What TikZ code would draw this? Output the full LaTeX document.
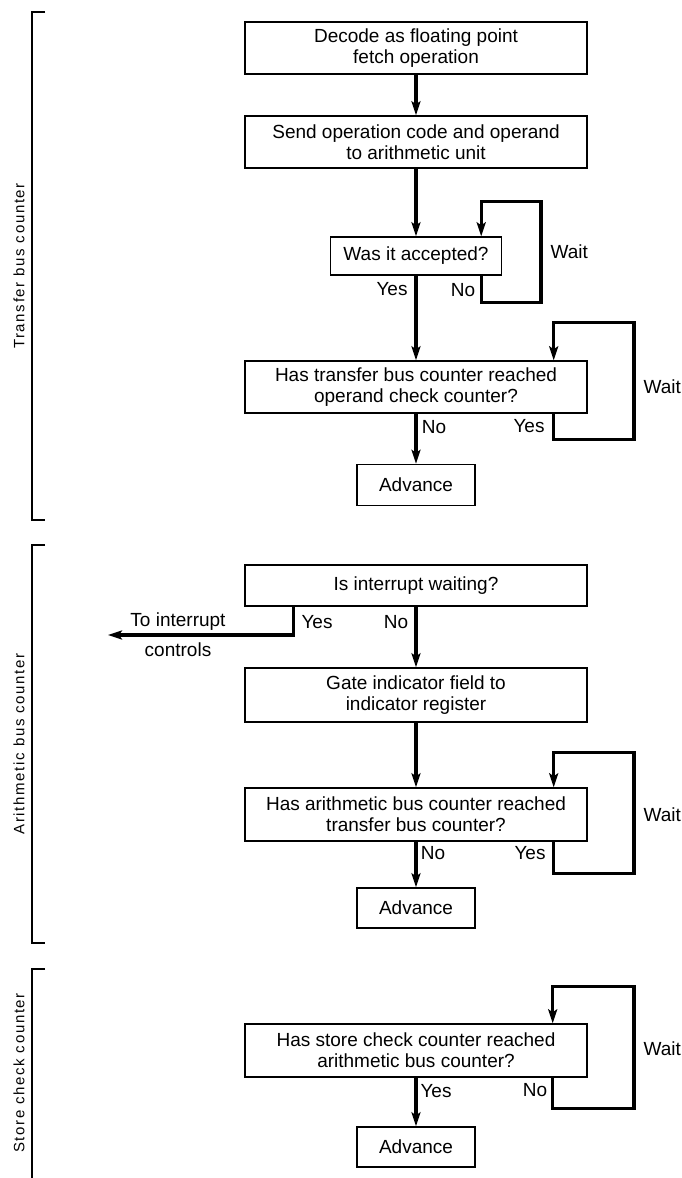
\documentclass[tikz,border=0pt]{standalone}
\usepackage{fontspec}
\setmainfont{Liberation Sans}
\newfontfamily\sidefont[LetterSpace=11]{Liberation Sans}
\usetikzlibrary{arrows.meta, positioning, calc}

\begin{document}
\begin{tikzpicture}[x=1pt, y=-1pt, every node/.style={font=\fontsize{19}{21}\selectfont},
    box/.style={draw, line width=1.4pt, minimum width=342pt, minimum height=52pt, inner sep=0pt, align=center},
    smallbox/.style={box, minimum width=118pt, minimum height=41pt},
    flow/.style={line width=3.2pt, -{Stealth[length=14pt, width=9pt, inset=3pt]}},
    waitloop/.style={flow, line width=3.3pt},
    bracket/.style={line width=2.8pt},
    side/.style={rotate=90, font=\sidefont\fontsize{15}{17}\selectfont}]
    \useasboundingbox (0,0) rectangle (682,1178);

    % Transfer bus counter
    \node[box] (decode) at (416,48) {Decode as floating point\\fetch operation};
    \node[box] (send) at (416,142) {Send operation code and operand\\to arithmetic unit};
    \node[box, minimum width=171pt, minimum height=38pt] (accepted) at (416,256) {Was it accepted?};
    \node[box] (tbcheck) at (416,387) {Has transfer bus counter reached\\operand check counter?};
    \node[smallbox] (adv1) at (416,485) {Advance};
    \draw[flow] (decode) -- (send);
    \draw[flow] (send) -- (accepted);
    \draw[flow] (accepted) -- (tbcheck);
    \draw[flow] (tbcheck) -- (adv1);
    \coordinate (waitA) at (541,252);
    \draw[waitloop] ([xshift=-21pt]accepted.south east) -- ++(0,27) -| (waitA) |- ([xshift=-21pt, yshift=35pt]accepted.north east) -- ([xshift=-21pt]accepted.north east);
    \node[right=6pt of waitA] (waitAtxt) {Wait};
    \node (yesA) at (392,289) {Yes};
    \node (noA) at (463,290) {No};
    \coordinate (waitB) at (634,387);
    \draw[waitloop] ([xshift=-34pt]tbcheck.south east) -- ++(0,26) -| (waitB) |- ([xshift=-34pt, yshift=38pt]tbcheck.north east) -- ([xshift=-34pt]tbcheck.north east);
    \node[right=6pt of waitB] (waitBtxt) {Wait};
    \node (noB) at (434,427) {No};
    \node (yesB) at (529,426) {Yes};

    % Arithmetic bus counter
    \node[box, minimum height=41pt] (interrupt) at (416,585.5) {Is interrupt waiting?};
    \node[box, minimum height=54pt] (gate) at (416,695) {Gate indicator field to\\indicator register};
    \node[box, minimum height=53pt] (abcheck) at (416,814.5) {Has arithmetic bus counter reached\\transfer bus counter?};
    \node[smallbox, minimum height=40pt] (adv2) at (416,908) {Advance};
    \draw[flow] (interrupt) -- (gate);
    \draw[flow] (gate) -- (abcheck);
    \draw[flow] (abcheck) -- (adv2);
    \coordinate (intctl) at (108,635);
    \draw[flow] ([xshift=49pt]interrupt.south west) |- (intctl);
    \node (totxt) at (178,622) {To interrupt};
    \node (ctltxt) at (178,650) {controls};
    \node (yesI) at (317,622) {Yes};
    \node (noI) at (396,622) {No};
    \coordinate (waitC) at (634,815);
    \draw[waitloop] ([xshift=-34pt]abcheck.south east) -- ++(0,32) -| (waitC) |- ([xshift=-34pt, yshift=35pt]abcheck.north east) -- ([xshift=-34pt]abcheck.north east);
    \node[right=6pt of waitC] (waitCtxt) {Wait};
    \node (noC) at (433,853) {No};
    \node (yesC) at (530,853) {Yes};

    % Store check counter
    \node[box, minimum height=53pt] (sccheck) at (416,1050.5) {Has store check counter reached\\arithmetic bus counter?};
    \node[smallbox, minimum height=40pt] (adv3) at (416,1147) {Advance};
    \draw[flow] (sccheck) -- (adv3);
    \coordinate (waitD) at (634,1049);
    \draw[waitloop] ([xshift=-35pt]sccheck.south east) -- ++(0,31) -| (waitD) |- ([xshift=-35pt, yshift=37pt]sccheck.north east) -- ([xshift=-35pt]sccheck.north east);
    \node[right=6pt of waitD] (waitDtxt) {Wait};
    \node (yesD) at (436,1091) {Yes};
    \node (noD) at (535,1090) {No};

    % side brackets
    \draw[bracket] (45,12) -- (32,12) -- (32,520) -- (45,520);
    \draw[bracket] (45,545) -- (32,545) -- (32,943) -- (45,943);
    \draw[bracket] (45,969) -- (32,969) -- (32,1178);
    \node[side] (transfer) at (19,266) {Transfer bus counter};
    \node[side] (arith) at (19,744) {Arithmetic bus counter};
    \node[side] (store) at (19,1073) {Store check counter};
  \end{tikzpicture}
\end{document}
